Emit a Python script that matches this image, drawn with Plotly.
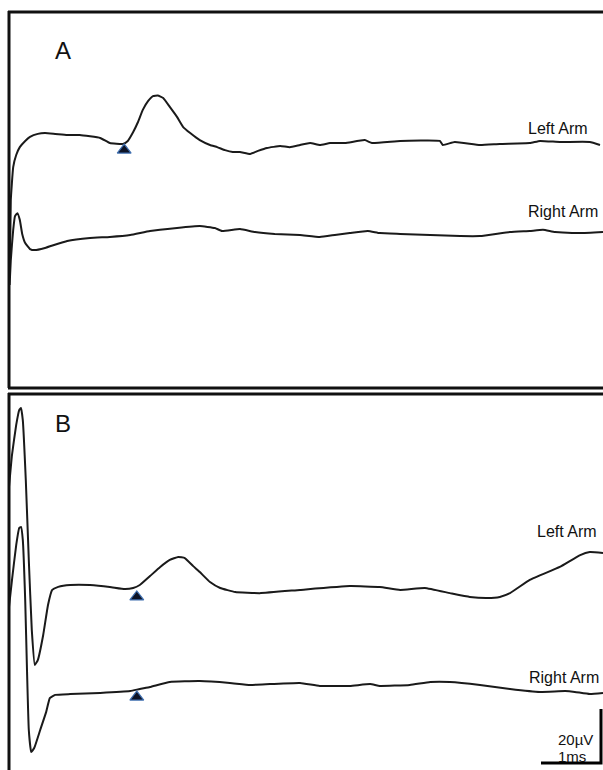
import plotly.graph_objects as go

# ---------------- data (time in ms, amplitude in µV relative to trace baseline) ----------------
a_left_t = [0.01, 0.02, 0.03, 0.07, 0.12, 0.18, 0.27, 0.35, 0.48, 0.6, 0.77, 0.97, 1.18, 1.52, 1.68, 1.9,
            1.98, 2.07, 2.15, 2.23, 2.32, 2.4, 2.48, 2.57, 2.68, 2.8, 2.9, 3.02, 3.18, 3.35, 3.47, 3.6,
            3.73, 3.85, 4.02, 4.15, 4.3, 4.52, 4.68, 4.85, 5.02, 5.18, 5.35, 5.6, 5.93, 6.05, 6.52, 7.18,
            7.23, 7.43, 7.85, 8.18, 8.68, 8.85, 9.18, 9.68, 9.85]
a_left_v = [-50.4, -40.0, -21.5, -9.3, -4.8, -1.9, 0.4, 1.9, 3.0, 3.3, 3.0, 2.6, 2.6, 1.5, -0.4, -0.7,
            0.4, 3.7, 7.4, 11.9, 15.2, 17.0, 17.2, 16.3, 13.0, 9.3, 5.6, 3.3, 0.7, -1.1, -1.9, -3.0,
            -3.7, -3.7, -4.4, -3.3, -2.2, -1.5, -1.9, -1.1, -0.4, -1.1, -0.4, -0.4, 0.7, -0.4, 0.4, 0.4,
            -1.1, 0.0, -1.1, -0.7, -0.4, 0.4, 0.0, 0.0, -1.1]

a_right_t = [0.01, 0.03, 0.07, 0.1, 0.14, 0.18, 0.22, 0.27, 0.35, 0.43, 0.6, 0.97, 1.35, 1.68, 2.02, 2.35,
             2.8, 3.18, 3.43, 3.55, 3.85, 4.1, 4.43, 4.85, 5.18, 5.43, 5.68, 5.98, 6.18, 6.52, 7.02, 7.52,
             7.85, 8.35, 8.68, 8.9, 9.1, 9.52, 9.9]
a_right_v = [-18.5, -9.3, 1.9, 7.0, 8.1, 5.6, 0.4, -3.0, -5.2, -5.6, -4.8, -2.2, -1.1, -0.7, 0.0, 1.5,
             2.6, 3.3, 2.6, 1.5, 2.2, 1.1, 0.4, 0.0, -0.7, 0.0, 0.7, 1.5, 0.7, 0.4, 0.0, -0.4,
             -0.4, 1.1, 1.5, 1.9, 1.1, 0.7, 1.1]

b_left_t = [0.0, 0.05, 0.12, 0.17, 0.2, 0.23, 0.28, 0.33, 0.38, 0.43, 0.48, 0.57, 0.65, 0.72, 0.82, 1.02,
            1.35, 1.68, 1.93, 2.07, 2.18, 2.35, 2.52, 2.68, 2.82, 2.93, 3.07, 3.18, 3.35, 3.52, 3.77, 4.18,
            4.85, 5.68, 6.18, 6.52, 6.93, 7.35, 7.68, 7.97, 8.18, 8.35, 8.68, 9.18, 9.52, 9.68, 9.9]
b_left_v = [37.4, 49.3, 60.4, 65.9, 66.7, 62.2, 40.0, 10.4, -15.6, -28.5, -26.7, -17.4, -6.3, -0.7, 0.4, 1.1,
            1.1, 0.4, -0.4, 0.0, 1.1, 4.4, 7.8, 10.4, 11.5, 11.1, 8.1, 5.9, 2.2, 0.0, -1.5, -1.9,
            -0.7, 0.7, 0.4, -0.7, 0.0, -1.9, -3.3, -3.7, -3.3, -1.9, 3.0, 7.8, 12.2, 13.3, 13.0]

b_right_t = [0.0, 0.05, 0.12, 0.17, 0.2, 0.23, 0.27, 0.3, 0.33, 0.37, 0.42, 0.52, 0.62, 0.68, 0.77, 1.02,
             1.52, 2.02, 2.18, 2.35, 2.68, 3.18, 3.68, 4.02, 4.35, 4.85, 5.18, 5.68, 6.02, 6.18, 6.68, 7.02,
             7.35, 7.85, 8.35, 8.85, 9.27, 9.43, 9.68, 9.9]
b_right_v = [31.9, 41.9, 54.8, 61.1, 61.5, 56.7, 34.4, 8.5, -13.7, -21.9, -20.4, -13.7, -7.0, -1.9, -0.7, -0.4,
             0.0, 0.7, 1.5, 2.2, 4.1, 4.4, 3.7, 3.0, 3.3, 3.7, 2.6, 2.6, 3.3, 2.6, 3.0, 4.1,
             4.1, 3.0, 1.5, 0.4, 0.7, 0.4, -0.4, 0.0]

# onset markers (time ms, amplitude µV relative to baseline)
a_left_marker = (1.92, -3.0)
b_left_marker = (2.13, -3.3)
b_right_marker = (2.13, -1.5)

trace_labels = ["Left Arm", "Right Arm"]
panel_labels = ["A", "B"]
scale_uv = 20
scale_ms = 1

# ---------------- layout helpers ----------------
W, H = 603, 770
PX_PER_MS = 60.0
PX_PER_UV = 2.7
X0_PX = 9  # pixel of t = 0


def bl(y_px):
    """baseline offset (µV units on the axis) for a trace whose baseline sits at pixel row y_px"""
    return (H - y_px) / PX_PER_UV


offsets = {"aL": bl(142), "aR": bl(235), "bL": bl(588), "bR": bl(693)}


def px(x):
    return x / W


def py(y):
    return 1 - y / H


fig = go.Figure()
line = dict(color="#1a1a1a", width=2, shape="spline", smoothing=0.35)

for t, v, key in [(a_left_t, a_left_v, "aL"), (a_right_t, a_right_v, "aR"),
                  (b_left_t, b_left_v, "bL"), (b_right_t, b_right_v, "bR")]:
    fig.add_trace(go.Scatter(x=t, y=[val + offsets[key] for val in v], mode="lines",
                             line=line, hoverinfo="skip", showlegend=False))

for (mt, mv), key in [(a_left_marker, "aL"), (b_left_marker, "bL"), (b_right_marker, "bR")]:
    fig.add_trace(go.Scatter(x=[mt], y=[mv + offsets[key]], mode="markers",
                             marker=dict(symbol="triangle-up", size=12, color="#0d1326",
                                         line=dict(color="#3f6fb0", width=1.2)),
                             hoverinfo="skip", showlegend=False))

# scale bar (drawn in data units)
sb_t1 = (601 - X0_PX) / PX_PER_MS
sb_v0 = (H - 763) / PX_PER_UV
fig.add_trace(go.Scatter(x=[sb_t1 - scale_ms, sb_t1, sb_t1], y=[sb_v0, sb_v0, sb_v0 + scale_uv],
                         mode="lines", line=dict(color="black", width=3), hoverinfo="skip",
                         showlegend=False))

# panel frames
frame = dict(color="#111111", width=3)
shapes = [
    dict(type="line", xref="paper", yref="paper", x0=px(8), x1=px(610), y0=py(12), y1=py(12), line=frame),
    dict(type="line", xref="paper", yref="paper", x0=px(9), x1=px(9), y0=py(11), y1=py(388), line=frame),
    dict(type="line", xref="paper", yref="paper", x0=px(8), x1=px(610), y0=py(388), y1=py(388), line=frame),
    dict(type="line", xref="paper", yref="paper", x0=px(8), x1=px(610), y0=py(394), y1=py(394), line=frame),
    dict(type="line", xref="paper", yref="paper", x0=px(9), x1=px(9), y0=py(393), y1=py(775), line=frame),
]

font = "Liberation Sans, Arial, sans-serif"
ann = []
for lab, (x, y) in zip(panel_labels, [(63, 51), (63, 424)]):
    ann.append(dict(text=lab, x=px(x), y=py(y), xref="paper", yref="paper", showarrow=False,
                    xanchor="center", yanchor="middle", font=dict(family=font, size=24, color="#111")))
for lab, (x, y) in zip(trace_labels * 2, [(558, 128), (563, 212), (567, 531), (564, 677)]):
    ann.append(dict(text=lab, x=px(x), y=py(y), xref="paper", yref="paper", showarrow=False,
                    xanchor="center", yanchor="middle", font=dict(family=font, size=16, color="#111")))
ann.append(dict(text=f"{scale_uv}µV", x=px(575), y=py(739), xref="paper", yref="paper", showarrow=False,
                xanchor="center", yanchor="middle", font=dict(family=font, size=15, color="#111")))
ann.append(dict(text=f"{scale_ms}ms", x=px(572), y=py(756), xref="paper", yref="paper", showarrow=False,
                xanchor="center", yanchor="middle", font=dict(family=font, size=15, color="#111")))

fig.update_layout(
    width=W, height=H, autosize=False,
    margin=dict(l=0, r=0, t=0, b=0),
    paper_bgcolor="white", plot_bgcolor="white",
    xaxis=dict(range=[-X0_PX / PX_PER_MS, (W - X0_PX) / PX_PER_MS], visible=False, fixedrange=True),
    yaxis=dict(range=[0, H / PX_PER_UV], visible=False, fixedrange=True),
    shapes=shapes, annotations=ann,
)

fig.write_html("out.html", config={"displayModeBar": False},
               post_script="document.body.style.margin='0';document.body.style.overflow='hidden';")
